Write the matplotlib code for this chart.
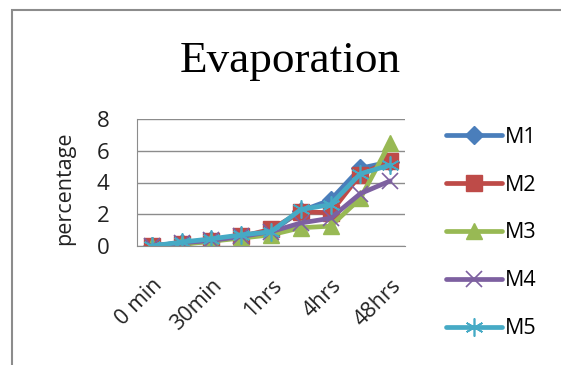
import matplotlib
matplotlib.use("Agg")
import matplotlib.pyplot as plt
from matplotlib.patches import Rectangle

categories = ["0 min", "15min", "30min", "45min", "1hrs", "2hrs", "4hrs", "24hrs", "48hrs"]
shown_labels = ["0 min", "30min", "1hrs", "4hrs", "48hrs"]
m1 = [0.0, 0.2, 0.4, 0.65, 0.9, 2.2, 2.9, 4.9, 5.3]
m2 = [0.0, 0.15, 0.3, 0.6, 1.05, 2.15, 2.1, 4.5, 5.35]
m3 = [0.0, 0.1, 0.3, 0.5, 0.7, 1.15, 1.25, 3.0, 6.5]
m4 = [0.0, 0.2, 0.35, 0.6, 0.9, 1.45, 1.75, 3.3, 4.1]
m5 = [0.0, 0.25, 0.45, 0.7, 0.9, 2.3, 2.6, 4.55, 5.1]
series_names = ["M1", "M2", "M3", "M4", "M5"]

colors = ["#4A7EBB", "#BE4B48", "#98B954", "#7D60A0", "#46AAC5"]
markers = ["D", "s", "^", "x", (6, 2, 0)]
msizes = [9, 12, 12, 12, 13]

fig = plt.figure(figsize=(5.61, 3.65), dpi=100)
W, H = 561, 365
ax = fig.add_axes([137 / W, 1 - 246 / H, (405 - 137) / W, (246 - 119) / H])

x = list(range(len(categories)))
for vals, name, c, mk, ms in zip([m1, m2, m3, m4, m5], series_names, colors, markers, msizes):
    kw = dict(color=c, lw=3.4, marker=mk, markersize=ms, label=name, solid_capstyle="round",
              solid_joinstyle="round")
    if mk == "x" or isinstance(mk, tuple):
        kw.update(markeredgewidth=1.2, markeredgecolor=c)
    ax.plot(x, vals, **kw)

ax.set_xlim(-0.5, len(categories) - 0.5)
ax.set_ylim(0, 8)
ax.set_yticks([0, 2, 4, 6, 8])
ax.yaxis.grid(True, color="#8c8c8c", lw=1)
ax.set_axisbelow(True)
for s in ["top", "right"]:
    ax.spines[s].set_visible(False)
ax.spines["left"].set_color("#8c8c8c")
ax.spines["bottom"].set_color("#8c8c8c")
ax.tick_params(axis="y", length=0, labelsize=16, pad=20, colors="#222222")
for lbl in ax.get_yticklabels():
    lbl.set_fontfamily("Open Sans")

ticks = [categories.index(l) for l in shown_labels]
ax.set_xticks(ticks)
ax.set_xticklabels(shown_labels, rotation=45, ha="right", rotation_mode="anchor",
                   fontsize=15.5, family="Open Sans", color="#222222")
ax.tick_params(axis="x", length=0, pad=21)

fig.text(65 / W, 1 - 188 / H, "percentage", rotation=90, ha="center", va="center",
         fontsize=15.5, family="Open Sans", color="#222222")

fig.text(290 / W, 1 - 61 / H, "Evaporation", ha="center", va="center",
         fontsize=32.5, family="Liberation Serif")

leg = fig.legend(loc="upper left", bbox_to_anchor=(437 / W, 1 - 118 / H), frameon=False,
                 prop={"family": "Open Sans", "size": 15.5}, handlelength=2.6,
                 labelspacing=1.25, handletextpad=0.15, borderaxespad=0)

fig.patches.append(Rectangle((12 / W, -0.1), 1.2, (1 - 10 / H) + 0.1, transform=fig.transFigure,
                             fill=False, edgecolor="#8c8c8c", lw=1.5))

fig.savefig("out.png", dpi=100)
